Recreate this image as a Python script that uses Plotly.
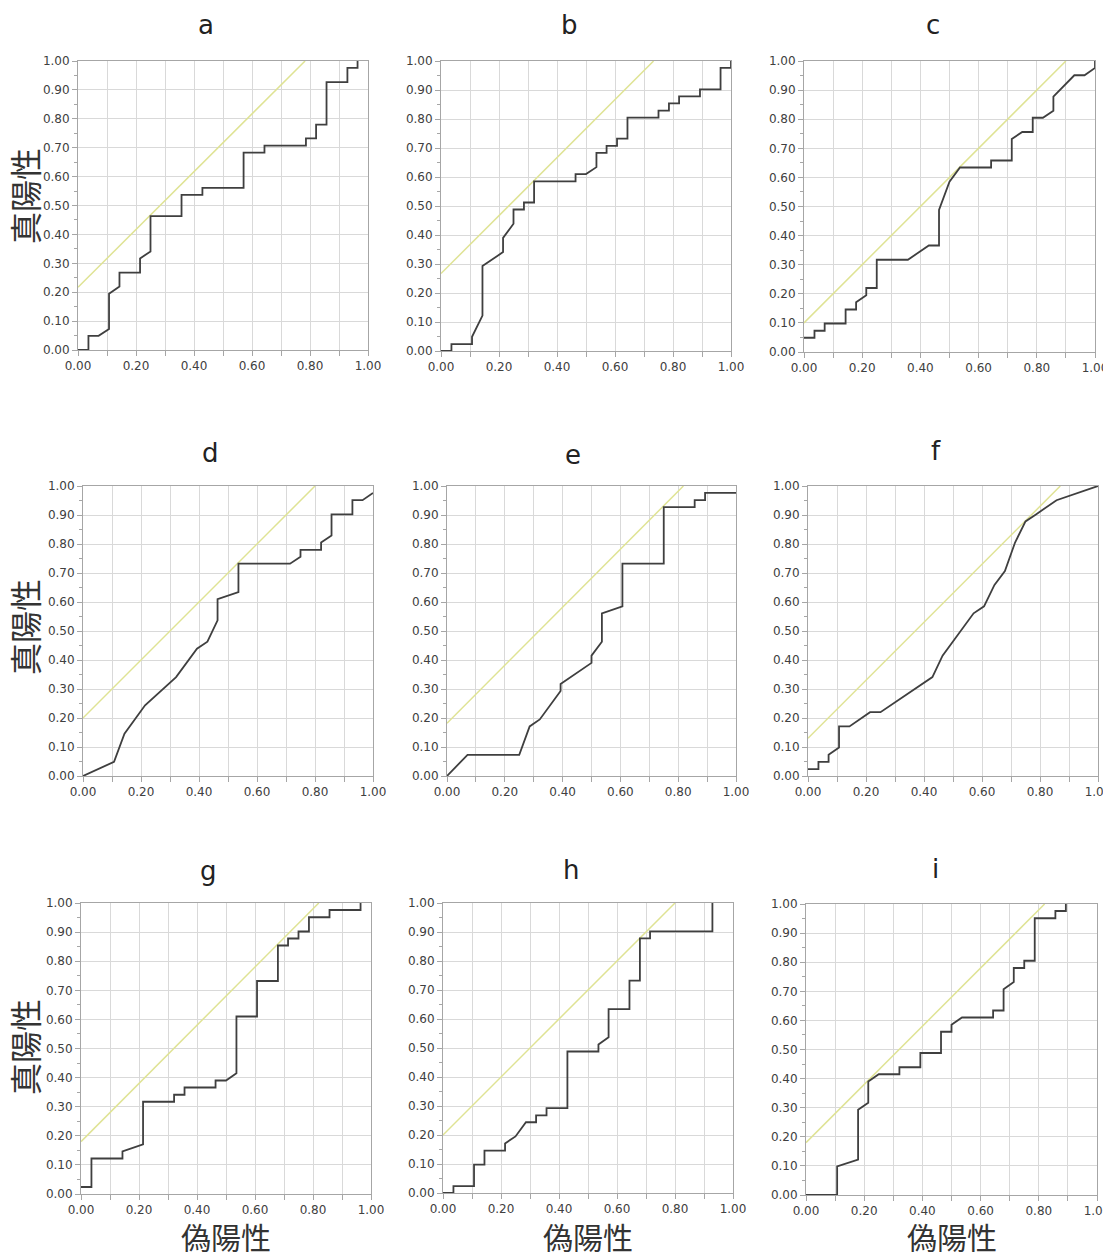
import plotly.graph_objects as go

# ---------------- data ----------------
panel_labels = ["a", "b", "c", "d", "e", "f", "g", "h", "i"]

a_fpr = [0, 0.036, 0.036, 0.071, 0.107, 0.107, 0.143, 0.143, 0.214, 0.214, 0.25, 0.25, 0.357, 0.357, 0.429, 0.429,
         0.571, 0.571, 0.643, 0.643, 0.786, 0.786, 0.821, 0.821, 0.857, 0.857, 0.929, 0.929, 0.964, 0.964]
a_tpr = [0, 0, 0.049, 0.049, 0.073, 0.195, 0.22, 0.268, 0.268, 0.317, 0.341, 0.463, 0.463, 0.537, 0.537, 0.561,
         0.561, 0.683, 0.683, 0.707, 0.707, 0.732, 0.732, 0.78, 0.78, 0.927, 0.927, 0.976, 0.976, 1.0]

b_fpr = [0, 0.036, 0.036, 0.107, 0.107, 0.143, 0.143, 0.214, 0.214, 0.25, 0.25, 0.286, 0.286, 0.321, 0.321, 0.464,
         0.464, 0.5, 0.536, 0.536, 0.571, 0.571, 0.607, 0.607, 0.643, 0.643, 0.75, 0.75, 0.786, 0.786, 0.821, 0.821,
         0.893, 0.893, 0.964, 0.964, 1.0, 1.0]
b_tpr = [0, 0, 0.024, 0.024, 0.049, 0.122, 0.293, 0.341, 0.39, 0.439, 0.488, 0.488, 0.512, 0.512, 0.585, 0.585,
         0.61, 0.61, 0.634, 0.683, 0.683, 0.707, 0.707, 0.732, 0.732, 0.805, 0.805, 0.829, 0.829, 0.854, 0.854, 0.878,
         0.878, 0.902, 0.902, 0.976, 0.976, 1.0]

c_fpr = [0, 0.036, 0.036, 0.071, 0.071, 0.143, 0.143, 0.179, 0.179, 0.214, 0.214, 0.25, 0.25, 0.357, 0.429, 0.464,
         0.464, 0.5, 0.536, 0.643, 0.643, 0.714, 0.714, 0.75, 0.786, 0.786, 0.821, 0.857, 0.857, 0.929, 0.964, 1.0, 1.0]
c_tpr = [0.049, 0.049, 0.073, 0.073, 0.098, 0.098, 0.146, 0.146, 0.171, 0.195, 0.22, 0.22, 0.317, 0.317, 0.366,
         0.366, 0.488, 0.585, 0.634, 0.634, 0.658, 0.658, 0.732, 0.756, 0.756, 0.805, 0.805, 0.829, 0.878, 0.951,
         0.951, 0.976, 1.0]

d_fpr = [0, 0.107, 0.143, 0.214, 0.321, 0.393, 0.429, 0.464, 0.464, 0.536, 0.536, 0.714, 0.75, 0.75, 0.821, 0.821,
         0.857, 0.857, 0.929, 0.929, 0.964, 1.0]
d_tpr = [0, 0.049, 0.146, 0.244, 0.341, 0.439, 0.463, 0.537, 0.61, 0.634, 0.732, 0.732, 0.756, 0.78, 0.78, 0.805,
         0.829, 0.902, 0.902, 0.951, 0.951, 0.976]

e_fpr = [0, 0.071, 0.25, 0.286, 0.321, 0.393, 0.393, 0.5, 0.5, 0.536, 0.536, 0.607, 0.607, 0.75, 0.75, 0.857, 0.857,
         0.893, 0.893, 1.0]
e_tpr = [0, 0.073, 0.073, 0.171, 0.195, 0.293, 0.317, 0.39, 0.415, 0.463, 0.561, 0.585, 0.732, 0.732, 0.927, 0.927,
         0.951, 0.951, 0.976, 0.976]

f_fpr = [0, 0.036, 0.036, 0.071, 0.071, 0.107, 0.107, 0.143, 0.214, 0.25, 0.429, 0.464, 0.571, 0.607, 0.643, 0.679,
         0.714, 0.75, 0.786, 0.857, 1.0]
f_tpr = [0.024, 0.024, 0.049, 0.049, 0.073, 0.098, 0.171, 0.171, 0.22, 0.22, 0.341, 0.415, 0.561, 0.585, 0.659,
         0.707, 0.805, 0.878, 0.902, 0.951, 1.0]

g_fpr = [0, 0.036, 0.036, 0.143, 0.143, 0.214, 0.214, 0.321, 0.321, 0.357, 0.357, 0.464, 0.464, 0.5, 0.536, 0.536,
         0.607, 0.607, 0.679, 0.679, 0.714, 0.714, 0.75, 0.75, 0.786, 0.786, 0.857, 0.857, 0.964, 0.964]
g_tpr = [0.024, 0.024, 0.122, 0.122, 0.146, 0.171, 0.317, 0.317, 0.341, 0.341, 0.366, 0.366, 0.39, 0.39, 0.415,
         0.61, 0.61, 0.732, 0.732, 0.854, 0.854, 0.878, 0.878, 0.902, 0.902, 0.951, 0.951, 0.976, 0.976, 1.0]

h_fpr = [0, 0.036, 0.036, 0.107, 0.107, 0.143, 0.143, 0.214, 0.214, 0.25, 0.286, 0.321, 0.321, 0.357, 0.357, 0.429,
         0.429, 0.536, 0.536, 0.571, 0.571, 0.643, 0.643, 0.679, 0.679, 0.714, 0.714, 0.929, 0.929]
h_tpr = [0, 0, 0.024, 0.024, 0.098, 0.098, 0.146, 0.146, 0.171, 0.195, 0.244, 0.244, 0.268, 0.268, 0.293, 0.293,
         0.488, 0.488, 0.512, 0.537, 0.634, 0.634, 0.732, 0.732, 0.878, 0.878, 0.902, 0.902, 1.0]

i_fpr = [0, 0.107, 0.107, 0.179, 0.179, 0.214, 0.214, 0.25, 0.321, 0.321, 0.393, 0.393, 0.464, 0.464, 0.5, 0.5,
         0.536, 0.643, 0.643, 0.679, 0.679, 0.714, 0.714, 0.75, 0.75, 0.786, 0.786, 0.857, 0.857, 0.893, 0.893]
i_tpr = [0, 0, 0.098, 0.122, 0.293, 0.317, 0.39, 0.415, 0.415, 0.439, 0.439, 0.488, 0.488, 0.561, 0.561, 0.585,
         0.61, 0.61, 0.634, 0.634, 0.707, 0.732, 0.78, 0.78, 0.805, 0.805, 0.951, 0.951, 0.976, 0.976, 1.0]

# intercepts of the yellow 45-degree reference lines (tpr = fpr + c)
ref_intercepts = [0.217, 0.267, 0.10, 0.20, 0.182, 0.13, 0.18, 0.20, 0.18]

y_tick_values = [0.0, 0.1, 0.2, 0.3, 0.4, 0.5, 0.6, 0.7, 0.8, 0.9, 1.0]
x_tick_values = [0.0, 0.2, 0.4, 0.6, 0.8, 1.0]
y_axis_title = "真陽性"
x_axis_title = "偽陽性"

curves = [(a_fpr, a_tpr), (b_fpr, b_tpr), (c_fpr, c_tpr), (d_fpr, d_tpr), (e_fpr, e_tpr),
          (f_fpr, f_tpr), (g_fpr, g_tpr), (h_fpr, h_tpr), (i_fpr, i_tpr)]

# ---------------- layout (screen-pixel boxes of plot areas) ----------------
OFF = 8                      # the page body margin shifts the figure by 8px
W, H = 1111, 1252            # figure size (slightly larger than visible area)
boxes = [  # x0, x1, ytop, ybottom in screen pixels
    (78, 368, 61, 350), (441, 731, 61, 351), (804, 1095, 61, 352),
    (83, 373, 486, 776), (447, 736, 486, 776), (808, 1098, 486, 776),
    (81, 371, 903, 1194), (443, 733, 903, 1193), (806, 1097, 904, 1195),
]
title_pos = [(206, 25), (569, 25), (933, 25), (210, 453), (573, 455), (936, 451),
             (208, 871), (571, 870), (935, 869)]
ytitle_centers = [196, 627, 1047]


def px(v):
    return (v - OFF) / W


def py(v):
    return 1 - (v - OFF) / H


fig = go.Figure()
tick_font = dict(family="DejaVu Sans", size=12, color="#404040")
layout = dict(width=W, height=H, margin=dict(l=0, r=0, t=0, b=0, autoexpand=False),
              paper_bgcolor="white", plot_bgcolor="white", showlegend=False)
annotations = []

for k, ((fx, ty), c) in enumerate(zip(curves, ref_intercepts)):
    n = "" if k == 0 else str(k + 1)
    xa, ya = "x" + n, "y" + n
    x0, x1, yt, yb = boxes[k]
    layout["xaxis" + n] = dict(
        domain=[px(x0), px(x1)], anchor=ya, range=[0, 1], tickvals=x_tick_values,
        tickformat=".2f", ticks="outside", ticklen=5, tickcolor="#a6a6a6",
        showgrid=True, gridcolor="#d9d9d9", gridwidth=1,
        minor=dict(dtick=0.1, showgrid=True, gridcolor="#d9d9d9", ticks="outside",
                   ticklen=5, tickcolor="#a6a6a6"),
        showline=True, linecolor="#a6a6a6", linewidth=1, mirror=True,
        tickfont=tick_font, zeroline=False, fixedrange=True, automargin=False,
        ticklabeloverflow="allow")
    layout["yaxis" + n] = dict(
        domain=[py(yb), py(yt)], anchor=xa, range=[0, 1], tickvals=y_tick_values,
        tickformat=".2f", ticks="outside", ticklen=5, tickcolor="#a6a6a6",
        showgrid=True, gridcolor="#d9d9d9", gridwidth=1,
        minor=dict(dtick=0.05, showgrid=False, ticks="outside", ticklen=3, tickcolor="#a6a6a6"),
        showline=True, linecolor="#a6a6a6", linewidth=1, mirror=True,
        tickfont=tick_font, zeroline=False, fixedrange=True, automargin=False,
        ticklabeloverflow="allow")

    fig.add_trace(go.Scatter(x=[0, 1 - c], y=[c, 1], mode="lines", xaxis=xa, yaxis=ya,
                             line=dict(color="#dfe394", width=1.5), hoverinfo="skip"))
    fig.add_trace(go.Scatter(x=fx, y=ty, mode="lines", xaxis=xa, yaxis=ya,
                             line=dict(color="#3f3f3f", width=1.8)))

    tx, tyy = title_pos[k]
    annotations.append(dict(text=panel_labels[k], x=px(tx), y=py(tyy), xref="paper", yref="paper",
                            showarrow=False, xanchor="center", yanchor="middle", borderpad=0,
                            font=dict(family="DejaVu Sans", size=26, color="#222222")))
    if k % 3 == 0:
        annotations.append(dict(text=y_axis_title, x=px(24), y=py(ytitle_centers[k // 3]),
                                xref="paper", yref="paper", showarrow=False, textangle=-90,
                                xanchor="center", yanchor="middle", borderpad=0,
                                font=dict(family="Noto Sans CJK JP", size=32, color="#333333")))
    if k >= 6:
        annotations.append(dict(text=x_axis_title, x=px((x0 + x1) / 2), y=py(1236),
                                xref="paper", yref="paper", showarrow=False,
                                xanchor="center", yanchor="middle", borderpad=0,
                                font=dict(family="Noto Sans CJK JP", size=30, color="#333333")))

layout["annotations"] = annotations
fig.update_layout(**layout)
fig.write_html("out.html")
